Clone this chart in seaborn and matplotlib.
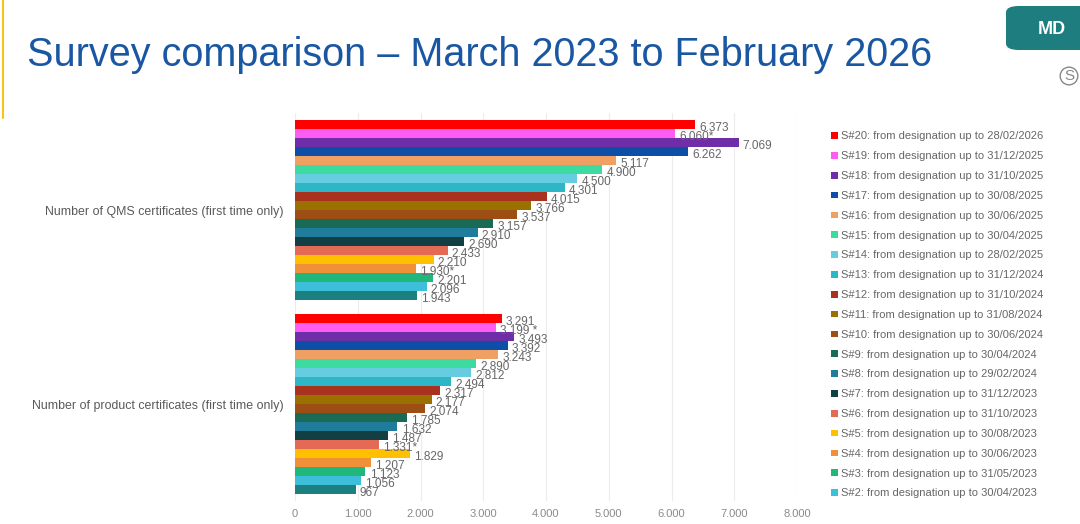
import matplotlib
matplotlib.use("Agg")
import matplotlib.pyplot as plt
import seaborn as sns
import pandas as pd
from matplotlib.patches import FancyBboxPatch, Patch

# ---------------- data ----------------
categories = ["Number of QMS certificates (first time only)",
              "Number of product certificates (first time only)"]
series = ["S#20: from designation up to 28/02/2026",
          "S#19: from designation up to 31/12/2025",
          "S#18: from designation up to 31/10/2025",
          "S#17: from designation up to 30/08/2025",
          "S#16: from designation up to 30/06/2025",
          "S#15: from designation up to 30/04/2025",
          "S#14: from designation up to 28/02/2025",
          "S#13: from designation up to 31/12/2024",
          "S#12: from designation up to 31/10/2024",
          "S#11: from designation up to 31/08/2024",
          "S#10: from designation up to 30/06/2024",
          "S#9: from designation up to 30/04/2024",
          "S#8: from designation up to 29/02/2024",
          "S#7: from designation up to 31/12/2023",
          "S#6: from designation up to 31/10/2023",
          "S#5: from designation up to 30/08/2023",
          "S#4: from designation up to 30/06/2023",
          "S#3: from designation up to 31/05/2023",
          "S#2: from designation up to 30/04/2023",
          "S#1"]
qms_values = [6373, 6060, 7069, 6262, 5117, 4900, 4500, 4301, 4015, 3766,
              3537, 3157, 2910, 2690, 2433, 2210, 1930, 2201, 2096, 1943]
product_values = [3291, 3199, 3493, 3392, 3243, 2890, 2812, 2494, 2317, 2177,
                  2074, 1785, 1632, 1487, 1331, 1829, 1207, 1123, 1056, 967]
qms_marks = ["", "*", "", "", "", "", "", "", "", "", "", "", "", "", "", "", "*", "", "", ""]
product_marks = ["", " *", "", "", "", "", "", "", "", "", "", "", "", "", "*", "", "", "", "", ""]
x_ticks = [0, 1000, 2000, 3000, 4000, 5000, 6000, 7000, 8000]

colors = ["#FF0000", "#FF5CF4", "#6F2DA8", "#0D4EA6", "#F0A062", "#3DDBA0",
          "#66CCE0", "#2DB6C6", "#A8321E", "#9A7000", "#9C4E14", "#1A6B55",
          "#1F7C9A", "#123F43", "#E46A55", "#FFC000", "#F0913A", "#20B77C",
          "#3DBFD9", "#1C7F80"]

rows = []
for s, q, p in zip(series, qms_values, product_values):
    rows.append({"category": categories[0], "series": s, "value": q})
    rows.append({"category": categories[1], "series": s, "value": p})
df = pd.DataFrame(rows)

# ---------------- figure ----------------
sns.set_theme(style="white")
plt.rcParams["font.family"] = ["Liberation Sans", "DejaVu Sans"]

fig = plt.figure(figsize=(10.8, 5.24), dpi=100)
ax = fig.add_axes([295 / 1080, 1 - 501 / 524, (797 - 295) / 1080, (501 - 113) / 524])

sns.barplot(data=df, y="category", x="value", hue="series", hue_order=series,
            order=categories, palette=colors, orient="h", width=0.93,
            saturation=1, ax=ax, legend=True, linewidth=0)

ax.set_xlim(0, 8000)
ax.set_xticks(x_ticks)
ax.set_xticklabels([f"{t:,}".replace(",", ".") for t in x_ticks],
                   fontsize=8, color="#8a8a8a")
ax.tick_params(axis="x", length=0, pad=6)
ax.tick_params(axis="y", length=0, pad=8, labelsize=8.9, labelcolor="#595959")
ax.set_xlabel("")
ax.set_ylabel("")
ax.grid(axis="x", color="#ececec", linewidth=0.8)
ax.set_axisbelow(True)
for sp in ax.spines.values():
    sp.set_visible(False)

# value labels
marks = {categories[0]: qms_marks, categories[1]: product_marks}
for i, cont in enumerate(ax.containers):
    for j, bar in enumerate(cont):
        v = bar.get_width()
        cat = categories[j]
        txt = f"{int(round(v)):,}".replace(",", ".") + marks[cat][i]
        ax.annotate(txt, (v, bar.get_y() + bar.get_height() / 2),
                    xytext=(3, -2.5), textcoords="offset points",
                    ha="left", va="center", fontsize=8.5, color="#666666")

# legend (without S#1)
handles = [Patch(facecolor=c, edgecolor="none") for c in colors[:-1]]
ax.get_legend().remove()
fig.legend(handles, series[:-1], loc="upper left",
           bbox_to_anchor=(827 / 1080, 1 - 127 / 524), frameon=False,
           fontsize=8, labelcolor="#666666", handlelength=0.55,
           handleheight=0.55, handletextpad=0.35, labelspacing=0.885,
           borderaxespad=0)

# title and decorations
fig.text(27 / 1080, 1 - 66 / 524, "Survey comparison \u2013 March 2023 to February 2026",
         fontsize=28.5, color="#1A57A3", ha="left", va="baseline")
fig.add_artist(plt.Line2D([3 / 1080, 3 / 1080], [1, 1 - 118 / 524],
                          color="#F5C518", linewidth=1.5, transform=fig.transFigure))
box = FancyBboxPatch((1006 / 1080, 1 - 50 / 524), 90 / 1080, 44 / 524,
                     boxstyle="round,pad=0,rounding_size=0.012",
                     transform=fig.transFigure, facecolor="#1E7E7F",
                     edgecolor="none")
fig.add_artist(box)
fig.text(1052 / 1080, 1 - 29 / 524, "MD", fontsize=13, fontweight="bold",
         color="white", ha="center", va="center")
fig.text(1069 / 1080, 1 - 76 / 524, "S", fontsize=11, color="#888888",
         ha="center", va="center",
         bbox=dict(boxstyle="circle,pad=0.12", facecolor="none",
                   edgecolor="#888888", linewidth=1))

fig.savefig("out.png", dpi=100)
